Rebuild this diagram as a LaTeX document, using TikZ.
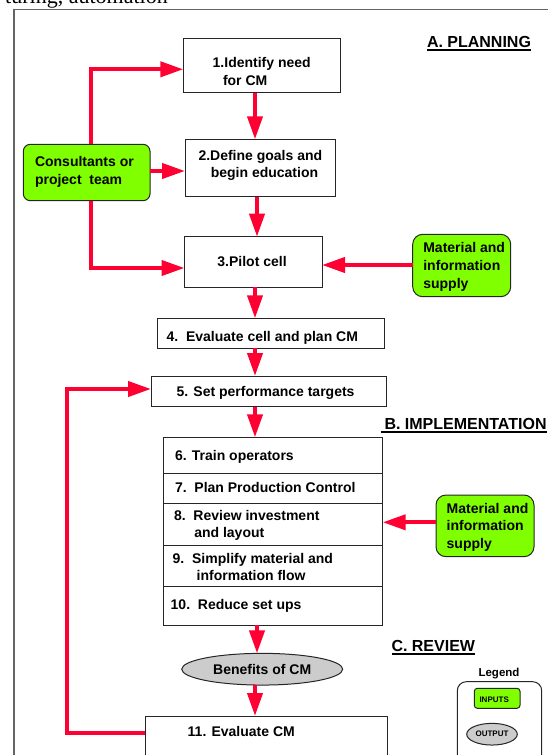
\documentclass[tikz,border=0pt]{standalone}
\usepackage{fontspec}
\setmainfont{Liberation Sans}
\newfontfamily\seriffam{Liberation Serif}
\usetikzlibrary{arrows.meta,shapes.geometric}
\definecolor{cmred}{RGB}{255,0,51}
\definecolor{cmgreen}{RGB}{128,255,0}
\definecolor{cmgray}{RGB}{204,204,204}
\definecolor{cmframe}{RGB}{100,100,100}
\begin{document}
\begin{tikzpicture}[x=1pt,y=-1pt,
  box/.style={draw=black!85, line width=1pt, fill=white, inner sep=0pt, outer sep=0pt, anchor=north west},
  inbox/.style={box, fill=cmgreen, rounded corners=8pt},
  txt/.style={inner sep=0pt, outer sep=0pt, anchor=base west, font=\fontsize{14}{17}\selectfont\bfseries},
  hdr/.style={inner sep=0pt, outer sep=0pt, anchor=base west, font=\fontsize{16}{18}\selectfont\bfseries},
  flow/.style={draw=cmred, line width=4pt, line join=miter, -{Triangle[length=23pt,width=15pt]}},
  divider/.style={draw=black!85, line width=1pt},
  uline/.style={draw=black, line width=1.4pt}
]
\useasboundingbox (0,0) rectangle (548,755);
% top text and frame
\node[inner sep=0pt, anchor=base west, font=\seriffam\fontsize{22}{24}\selectfont] (toptext) at (5,3.5) {turing, automation};
\draw[cmframe, line width=1.3pt] (14,9.7) rectangle (600,800);

% boxes
\node[box, minimum width=157.4pt, minimum height=54.4pt] (b1) at (183.3,38.3) {};
\node[box, minimum width=150pt, minimum height=57.4pt] (b2) at (185,139.3) {};
\node[box, minimum width=137.5pt, minimum height=50.6pt] (b3) at (184.5,236.7) {};
\node[inbox, rounded corners=7pt, minimum width=126.7pt, minimum height=56.4pt] (cons) at (23.3,144.3) {};
\node[inbox, rounded corners=10pt, minimum width=98pt, minimum height=62.4pt] (mat1) at (412.7,234.3) {};
\node[box, minimum width=227pt, minimum height=30pt] (b4) at (157.3,318.3) {};
\node[box, minimum width=235pt, minimum height=30.7pt] (b5) at (151,376) {};
\node[box, minimum width=219.4pt, minimum height=187.7pt] (grp) at (163.3,437.3) {};
\node[inbox, rounded corners=10pt, minimum width=98pt, minimum height=61.7pt] (mat2) at (436,495) {};
\node[ellipse, draw=black!85, line width=1pt, fill=cmgray, inner sep=0pt, outer sep=0pt, minimum width=161pt, minimum height=31.7pt, font=\fontsize{14}{17}\selectfont\bfseries] (ell) at (262.2,669.2) {Benefits of CM};
\node[box, minimum width=242.3pt, minimum height=70pt] (b11) at (145,716) {};
\node[box, rounded corners=9pt, minimum width=84.4pt, minimum height=90pt] (leg) at (457.3,681.7) {};
\node[inbox, rounded corners=3pt, minimum width=45.7pt, minimum height=20pt] (legin) at (474.3,688.3) {};
\node[ellipse, draw=black!85, line width=1pt, fill=cmgray, inner sep=0pt, outer sep=0pt, minimum width=50.6pt, minimum height=21.7pt, font=\fontsize{8}{9}\selectfont\bfseries] (legout) at (492,734.2) {OUTPUT};

% group dividers
\coordinate (d1) at (0,473.3);
\coordinate (d2) at (0,503.3);
\coordinate (d3) at (0,545);
\coordinate (d4) at (0,586.7);
\foreach \d in {d1,d2,d3,d4} \draw[divider] (grp.west |- \d) -- (grp.east |- \d);

% texts
\node[txt] (t1a) at (212.7,67.3) {1.Identify need};
\node[txt] (t1b) at (223,85) {for CM};
\node[txt] (t2a) at (198.5,160) {2.Define goals and};
\node[txt] (t2b) at (210.8,177.7) {begin education};
\node[txt] (t3) at (217.4,266.7) {3.Pilot cell};
\node[txt] (tca) at (35,166.7) {Consultants or};
\node[txt] (tcb) at (35,184.3) {project\ \ team};
\node[txt] (tm1a) at (423.3,252.3) {Material and};
\node[txt] (tm1b) at (423.3,270) {information};
\node[txt] (tm1c) at (423.3,288.3) {supply};
\node[txt] (t4) at (166.6,341.7) {4.\ \ Evaluate cell and plan CM};
\node[txt] (t5) at (176.6,396.7) {5. Set performance targets};
\node[txt] (t6) at (175,460) {6. Train operators};
\node[txt] (t7) at (175,492.7) {7.\ \ Plan Production Control};
\node[txt] (t8a) at (174,520) {8.\ \ Review investment};
\node[txt] (t8b) at (194.3,537.3) {and layout};
\node[txt] (t9a) at (172.7,563.3) {9.\ \ Simplify material and};
\node[txt] (t9b) at (196.7,580.7) {information flow};
\node[txt] (t10) at (170.7,609) {10.\ \ Reduce set ups};
\node[txt] (tm2a) at (446.7,513.3) {Material and};
\node[txt] (tm2b) at (446.7,530.7) {information};
\node[txt] (tm2c) at (446.7,548.3) {supply};
\node[txt] (t11) at (187.7,736.7) {11. Evaluate CM};
\node[inner sep=0pt, anchor=base, font=\fontsize{11.5}{13}\selectfont\bfseries] (tleg) at (499,676.5) {Legend};
\node[inner sep=0pt, anchor=base west, font=\fontsize{8}{9}\selectfont\bfseries] (tin) at (479.3,702) {INPUTS};

% headers
\node[hdr] (hA) at (427,47.3) {A. PLANNING};
\node[hdr] (hB) at (384.5,429.5) {B. IMPLEMENTATION};
\node[hdr] (hC) at (391.5,651.5) {C. REVIEW};
\draw[uline] ([yshift=-2.5pt]hA.base west) -- ([yshift=-2.5pt]hA.base east);
\draw[uline] ([xshift=-4pt,yshift=-2.5pt]hB.base west) -- ([yshift=-2.5pt]hB.base east);
\draw[uline] ([yshift=-2.5pt]hC.base west) -- ([yshift=-2.5pt]hC.base east);

% connectors
\coordinate (cA) at (255,0);
\coordinate (cB) at (257,0);
\draw[flow] (b1.south -| cA) -- (b2.north -| cA);
\draw[flow] (b2.south -| cB) -- (b3.north -| cB);
\draw[flow] (b3.south -| cA) -- (b4.north -| cA);
\draw[flow] (b4.south -| cA) -- (b5.north -| cA);
\draw[flow] (b5.south -| cA) -- (grp.north -| cA);
\draw[flow] (grp.south -| cB) -- (ell.north -| cB);
\draw[flow] (ell.south -| cA) -- (b11.north -| cA);

\coordinate (k1) at (90.7,69.3);
\coordinate (k2) at (0,171);
\coordinate (k3) at (90.7,268);
\coordinate (k4) at (0,265);
\coordinate (k5) at (0,522.3);
\draw[flow] (cons.north -| k1) -- (k1) -- (b1.west |- k1);
\draw[flow] (cons.east |- k2) -- (b2.west |- k2);
\draw[flow] (cons.south -| k3) -- (k3) -- (b3.west |- k3);
\draw[flow] (mat1.west |- k4) -- (b3.east |- k4);
\draw[flow] (mat2.west |- k5) -- (grp.east |- k5);

\coordinate (lp1) at (67,733.3);
\coordinate (lp2) at (67,389);
\draw[flow] (b11.west |- lp1) -- (lp1) -- (lp2) -- (b5.west |- lp2);
\end{tikzpicture}
\end{document}
